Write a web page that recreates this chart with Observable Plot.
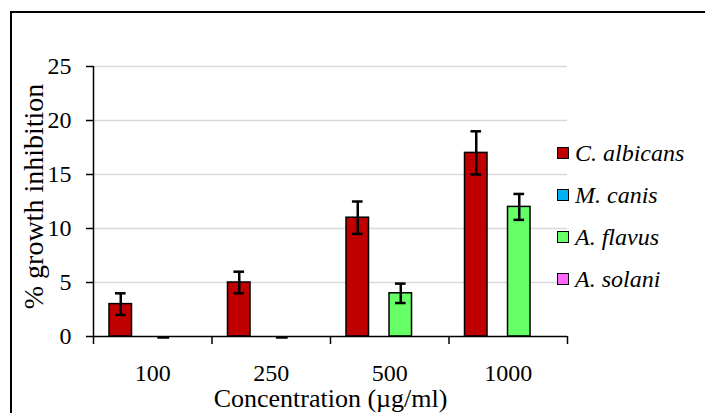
<!DOCTYPE html>
<html>
<head>
<meta charset="utf-8">
<script src="https://cdn.jsdelivr.net/npm/d3@7"></script>
<script src="https://cdn.jsdelivr.net/npm/@observablehq/plot@0.6"></script>
<style>
  html, body { margin: 0; padding: 0; width: 705px; height: 413px; overflow: hidden; background: #fff; }
  #wrap { position: relative; width: 705px; height: 413px; }
  #border { position: absolute; left: 10px; top: 11px; width: 800px; height: 500px; border: 2.5px solid #000; box-sizing: border-box; }
  #chart { position: absolute; left: 0; top: 0; }
  #legend { position: absolute; left: 557px; top: 132px; font-family: "Liberation Serif", serif; font-style: italic; font-size: 24px; }
  #legend .item { display: flex; align-items: center; height: 42px; white-space: nowrap; }
  #legend .sw { width: 10px; height: 10px; border: 1.5px solid #000; margin-right: 6px; flex: none; }
</style>
</head>
<body>
<div id="wrap">
  <div id="border"></div>
  <div id="chart"></div>
  <div id="legend"></div>
</div>
<script>
// ---- data ----
const concentrations = ["100", "250", "500", "1000"];
const seriesNames = ["C. albicans", "M. canis", "A. flavus", "A. solani"];
const seriesColors = ["#C00000", "#00B0F0", "#66FF66", "#FF66FF"];
const albicansValues = [3, 5, 11, 17];
const albicansErrors = [1, 1, 1.5, 2];
const mcanisValues = [];
const flavusValues = [0, 0, 4, 12];
const flavusErrors = [0, 0, 0.9, 1.2];
const solaniValues = [];
const yTicks = [0, 5, 10, 15, 20, 25];

// ---- layout within each concentration group (fraction of group width) ----
const slotStart = {"C. albicans": 0.135, "A. flavus": 0.498};
const barWidth = 0.19;
const capHalf = 0.045;
const dashHalf = 0.05;

const rows = [];
concentrations.forEach((c, i) => {
  rows.push({i, conc: c, series: "C. albicans", value: albicansValues[i], err: albicansErrors[i]});
  rows.push({i, conc: c, series: "A. flavus", value: flavusValues[i], err: flavusErrors[i]});
});
rows.forEach(d => {
  d.x1 = d.i + slotStart[d.series];
  d.x2 = d.x1 + barWidth;
  d.xc = (d.x1 + d.x2) / 2;
});
const colorOf = s => seriesColors[seriesNames.indexOf(s)];
const bars = rows.filter(d => d.value > 0);
const zeros = rows.filter(d => d.value === 0);
const errs = rows.filter(d => d.err > 0);

const chart = Plot.plot({
  width: 705,
  height: 413,
  marginLeft: 93,
  marginRight: 138,
  marginTop: 66,
  marginBottom: 77,
  style: {fontFamily: "Liberation Serif, serif", fontSize: "23px", color: "#000", background: "transparent", overflow: "visible"},
  x: {type: "linear", domain: [0, concentrations.length]},
  y: {domain: [0, 25]},
  marks: [
    Plot.gridY(yTicks.filter(t => t > 0), {stroke: "#d9d9d9", strokeOpacity: 1, strokeWidth: 1.5}),
    Plot.rectY(bars, {x1: "x1", x2: "x2", y1: 0, y2: "value", fill: d => colorOf(d.series), stroke: "#000", strokeWidth: 1.5}),
    Plot.ruleY(zeros, {y: 0, x1: d => d.xc - dashHalf, x2: d => d.xc + dashHalf, stroke: "#000", strokeWidth: 2.5, dy: 1}),
    Plot.ruleY([0], {stroke: "#000", strokeWidth: 1.5}),
    Plot.ruleX([0], {y1: 0, y2: 25, stroke: "#000", strokeWidth: 1.5}),
    Plot.ruleX(errs, {x: "xc", y1: d => d.value - d.err, y2: d => d.value + d.err, stroke: "#000", strokeWidth: 2.5}),
    Plot.ruleY(errs, {y: d => d.value + d.err, x1: d => d.xc - capHalf, x2: d => d.xc + capHalf, stroke: "#000", strokeWidth: 2.5}),
    Plot.ruleY(errs, {y: d => d.value - d.err, x1: d => d.xc - capHalf, x2: d => d.xc + capHalf, stroke: "#000", strokeWidth: 2.5}),
    Plot.axisY(yTicks, {tickSize: 7, tickPadding: 15, strokeWidth: 1.5, label: null, fontSize: 24, tickFormat: d => String(d)}),
    Plot.axisX(d3.range(concentrations.length + 1), {tickSize: 8, strokeWidth: 1.5, tickFormat: () => "", label: null}),
    Plot.axisX(concentrations.map((c, i) => i + 0.5), {tickSize: 0, tickPadding: 27, fontSize: 24, tickFormat: d => concentrations[Math.floor(d)], label: null}),
    Plot.text(["Concentration (µg/ml)"], {frameAnchor: "bottom", dy: 62, lineAnchor: "middle", fontSize: 26}),
    Plot.text(["% growth inhibition"], {frameAnchor: "left", textAnchor: "middle", rotate: -90, dx: -70, dy: -5, lineAnchor: "top", fontSize: 28})
  ]
});
document.getElementById("chart").appendChild(chart);

// ---- legend ----
const legend = document.getElementById("legend");
seriesNames.forEach((s, k) => {
  const item = document.createElement("div");
  item.className = "item";
  const sw = document.createElement("span");
  sw.className = "sw";
  sw.style.background = seriesColors[k];
  const label = document.createElement("span");
  label.textContent = s;
  item.appendChild(sw);
  item.appendChild(label);
  legend.appendChild(item);
});
</script>
</body>
</html>
